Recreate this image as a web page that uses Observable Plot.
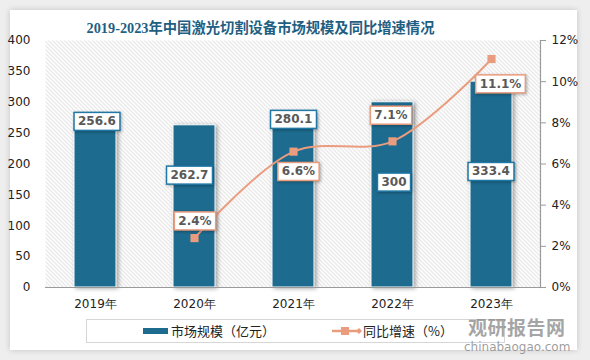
<!DOCTYPE html>
<html><head><meta charset="utf-8">
<script src="https://cdn.jsdelivr.net/npm/d3@7"></script>
<script src="https://cdn.jsdelivr.net/npm/@observablehq/plot@0.6"></script>
<style>
html,body{margin:0;padding:0;}
body{width:590px;height:360px;background:#eeeeee;position:relative;overflow:hidden;font-family:"Liberation Sans","Noto Sans CJK SC",sans-serif;}
#card{position:absolute;left:10px;top:10px;width:567px;height:340px;background:#fff;box-shadow:0 0 6px rgba(0,0,0,0.18);}
#title{position:absolute;left:0;width:521px;text-align:center;top:16px;font-family:"Liberation Serif","Noto Sans CJK SC",serif;font-weight:bold;font-size:14.3px;color:#1f5f83;}
#chart{position:absolute;left:0;top:0;}
#legend{position:absolute;left:86px;top:319px;width:417px;height:22px;border:1px solid #d6d6d6;background:#fff;}
.lg{position:absolute;top:2px;font-size:13px;color:#222;font-family:"Noto Sans CJK SC",sans-serif;line-height:18px;}
#wm1{position:absolute;left:468px;top:313px;font-size:19px;line-height:27px;font-weight:bold;color:rgba(125,125,125,0.7);font-family:"Noto Sans CJK SC",sans-serif;letter-spacing:0.5px;}
#wm2{position:absolute;left:464px;top:340px;font-size:12px;line-height:14px;color:rgba(125,125,125,0.75);font-family:"DejaVu Sans",sans-serif;}
g.bars rect{filter:drop-shadow(2px 1px 2px rgba(0,0,0,0.35));}
</style></head>
<body>
<div id="card"></div>
<div id="chart"></div>
<div id="title">2019-2023年中国激光切割设备市场规模及同比增速情况</div>
<div id="legend"></div>
<div id="wm1">观研报告网</div>
<div id="wm2">chinabaogao.com</div>
<script>
// ---- data ----
const years = ["2019年","2020年","2021年","2022年","2023年"];
const marketSize = [256.6, 262.7, 280.1, 300, 333.4];   // 亿元
const growthRate = [null, 2.4, 6.6, 7.1, 11.1];         // %
const leftTicks = [0,50,100,150,200,250,300,350,400];
const rightTicks = [0,2,4,6,8,10,12];
const seriesNames = ["市场规模（亿元）","同比增速（%）"];

// ---- layout (label offsets in px) ----
const barLabelOffset = [[1.5,-7.5],[-5,50],[0,5],[1.5,80],[-0.5,90]];
const pctLabelOffset = [null,[0.5,-17],[5,20],[-1.5,-26],[9,25]];

const barColor = "#1d6b8f";
const lineColor = "#ea9c7e";
const k = 400/12; // right-axis % -> left-axis units

const bars = years.map((y,i)=>({year:y, value:marketSize[i]}));
const rates = years.map((y,i)=>({year:y, rate:growthRate[i]})).filter(d=>d.rate!=null);

const marks = [
  Plot.frame({fill:"url(#hatch)", stroke:null}),
  Plot.barY(bars,{x:"year", y:"value", fill:barColor, stroke:"#fff", strokeWidth:1, className:"bars"}),
  Plot.ruleY([0],{stroke:"#9a9a9a", strokeWidth:1.2}),
  Plot.frame({anchor:"right", stroke:"#9a9a9a", strokeWidth:1.2}),
  Plot.axisX({tickSize:0, tickPadding:12, fontSize:12, fill:"#222", label:null}),
  Plot.axisY({ticks:leftTicks, tickSize:0, tickPadding:15, fontSize:12, fill:"#222", label:null}),
  Plot.axisY({anchor:"right", ticks:rightTicks.map(d=>d*k), tickFormat:d=>Math.round(d/k)+"%", tickSize:5, stroke:"#9a9a9a", tickPadding:6, fontSize:12, fill:"#222", label:null}),
  Plot.line(rates,{x:"year", y:d=>d.rate*k, curve:"catmull-rom", stroke:lineColor, strokeWidth:2}),
  Plot.dot(rates,{x:"year", y:d=>d.rate*k, symbol:"square", r:4.6, fill:lineColor, stroke:null}),
];
bars.forEach((d,i)=>{
  marks.push(Plot.text([d],{x:"year", y:"value", text:d=>String(d.value), dx:barLabelOffset[i][0], dy:barLabelOffset[i][1], fontSize:12, fontWeight:"bold", fill:"#595959", className:"barlbl", fontFamily:"DejaVu Sans"}));
});
rates.forEach(d=>{
  const i = years.indexOf(d.year);
  marks.push(Plot.text([d],{x:"year", y:r=>r.rate*k, text:r=>r.rate.toFixed(1)+"%", dx:pctLabelOffset[i][0], dy:pctLabelOffset[i][1], fontSize:12, fontWeight:"bold", fill:"#595959", className:"pctlbl", fontFamily:"DejaVu Sans"}));
});

const chart = Plot.plot({
  width:590, height:315,
  marginTop:40, marginBottom:28, marginLeft:45, marginRight:50,
  style:{background:"transparent", fontFamily:"DejaVu Sans, sans-serif", overflow:"visible"},
  x:{domain:years, paddingInner:0.576, paddingOuter:0.288, axis:null},
  y:{domain:[0,400], axis:null},
  marks
});
document.getElementById("chart").appendChild(chart);

// hatch pattern defs
const ns = "http://www.w3.org/2000/svg";
const defs = document.createElementNS(ns,"defs");
defs.innerHTML = `<pattern id="hatch" width="4" height="4" patternUnits="userSpaceOnUse">
<rect width="4" height="4" fill="#ffffff"/>
<path d="M-1,-1 L5,5 M-1,3 L1,5 M3,-1 L5,1" stroke="#c9c9c9" stroke-width="0.8"/></pattern>`;
chart.insertBefore(defs, chart.firstChild);

// boxes behind labels
function boxes(cls, color){
  chart.querySelectorAll("g."+cls+" text").forEach(t=>{
    const b = t.getBBox();
    const r = document.createElementNS(ns,"rect");
    r.setAttribute("x", b.x-4); r.setAttribute("y", b.y-2);
    r.setAttribute("width", b.width+8); r.setAttribute("height", b.height+4);
    r.setAttribute("fill","#fff"); r.setAttribute("stroke",color); r.setAttribute("stroke-width","1.5");
    r.setAttribute("style","filter:drop-shadow(1px 1px 1.5px rgba(0,0,0,0.3))");
    if (t.getAttribute("transform")) r.setAttribute("transform", t.getAttribute("transform"));
    t.parentNode.insertBefore(r, t);
  });
}
boxes("barlbl", "#1f78a6");
boxes("pctlbl", lineColor);

// legend
const lg = document.getElementById("legend");
lg.innerHTML = `
<svg style="position:absolute;left:56px;top:0" width="28" height="22"><rect x="0" y="8" width="25" height="6" fill="${barColor}"/></svg>
<div class="lg" style="left:84px">${seriesNames[0]}</div>
<svg style="position:absolute;left:245px;top:0" width="32" height="22"><line x1="0" y1="11" x2="28" y2="11" stroke="${lineColor}" stroke-width="2.5"/><rect x="9" y="7" width="8" height="8" fill="${lineColor}"/><path d="M24,11 L27,8 L30,11 L27,14Z" fill="${lineColor}"/></svg>
<div class="lg" style="left:276px">${seriesNames[1]}</div>`;
</script>
</body></html>
